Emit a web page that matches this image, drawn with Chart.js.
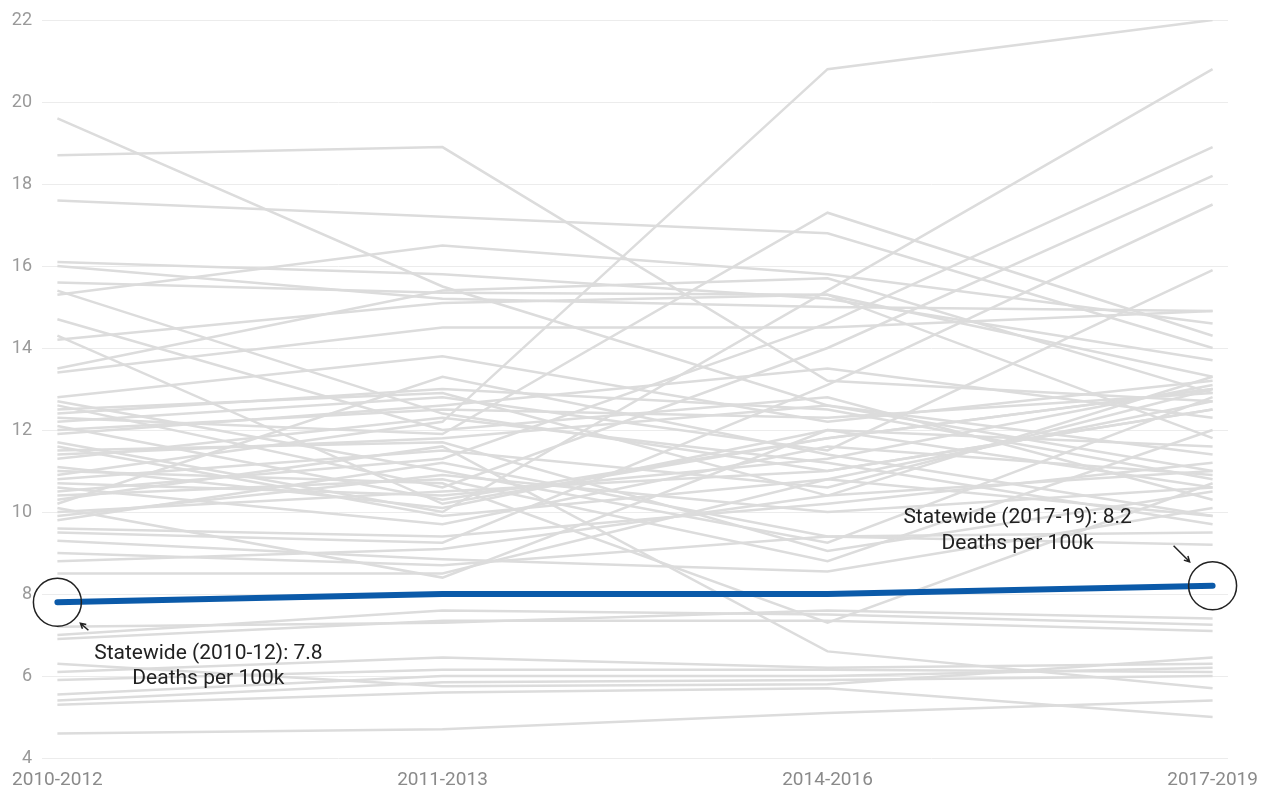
<!DOCTYPE html>
<html>
<head>
<meta charset="utf-8">
<script src="https://cdn.jsdelivr.net/npm/chart.js@4.4.1/dist/chart.umd.min.js"></script>
<style>
  html, body { margin: 0; padding: 0; background: #fff; }
</style>
</head>
<body>
<canvas id="chart" width="1267" height="789"></canvas>
<script>
'use strict';

// periods on the x axis
const periods = ['2010-2012', '2011-2013', '2014-2016', '2017-2019'];
const yTicks = [4, 6, 8, 10, 12, 14, 16, 18, 20, 22];

// statewide rate, deaths per 100k
const statewide = [7.8, 8.0, 8.0, 8.2];

// one row per county, same order as periods
const counties = [
  [4.6, 4.7, 5.1, 5.4],
  [5.3, 5.6, 5.7, 5.0],
  [5.4, 5.85, 5.9, 6.0],
  [5.55, 6.0, 6.0, 6.2],
  [5.9, 6.15, 6.15, 6.1],
  [6.1, 6.45, 6.2, 6.3],
  [6.3, 5.75, 5.8, 6.45],
  [6.9, 7.35, 7.35, 7.1],
  [7.0, 7.6, 7.5, 7.25],
  [7.2, 7.3, 7.6, 7.4],
  [10.3, 11.6, 6.6, 5.7],
  [11.0, 10.7, 7.3, 10.7],
  [10.9, 12.2, 20.8, 22.0],
  [19.6, 15.5, 12.6, 11.4],
  [18.7, 18.9, 13.2, 12.7],
  [17.6, 17.2, 16.8, 14.0],
  [12.3, 11.9, 17.3, 14.3],
  [11.7, 10.0, 15.4, 20.8],
  [10.5, 11.3, 14.6, 18.9],
  [12.6, 10.6, 14.0, 18.2],
  [9.5, 9.25, 13.1, 17.5],
  [12.2, 12.8, 11.5, 15.9],
  [16.1, 15.8, 15.2, 13.7],
  [16.0, 15.2, 15.0, 14.9],
  [15.3, 16.5, 15.8, 14.6],
  [15.6, 15.35, 15.3, 13.3],
  [15.4, 12.4, 11.0, 12.5],
  [14.7, 12.0, 12.8, 10.3],
  [14.3, 10.2, 11.8, 13.0],
  [14.2, 15.1, 15.3, 11.8],
  [13.5, 15.4, 15.7, 12.9],
  [13.4, 14.5, 14.5, 14.9],
  [12.8, 13.8, 12.2, 13.2],
  [12.7, 11.0, 9.25, 12.8],
  [12.5, 12.9, 10.4, 11.0],
  [12.4, 13.0, 12.5, 10.8],
  [12.1, 10.3, 11.8, 13.0],
  [12.0, 12.5, 12.3, 12.9],
  [11.9, 12.6, 13.5, 12.3],
  [11.6, 9.9, 10.8, 12.7],
  [11.5, 11.7, 9.05, 10.5],
  [11.4, 11.8, 12.6, 11.0],
  [11.3, 12.3, 11.2, 9.7],
  [11.1, 10.1, 12.0, 11.6],
  [10.8, 11.5, 10.6, 13.0],
  [10.7, 10.4, 11.3, 13.1],
  [10.6, 9.7, 11.6, 10.9],
  [10.4, 10.8, 8.8, 12.0],
  [10.2, 13.3, 11.4, 9.9],
  [10.1, 8.4, 12.0, 10.6],
  [10.0, 10.5, 11.0, 12.5],
  [9.9, 10.9, 10.0, 10.6],
  [9.8, 11.2, 9.4, 9.2],
  [9.6, 9.4, 10.2, 11.2],
  [9.3, 8.85, 8.55, 10.1],
  [9.0, 8.7, 9.4, 9.5],
  [8.8, 9.1, 10.4, 13.3],
  [8.5, 8.5, 10.8, 9.9]
];

const noteStart = ['Statewide (2010-12): 7.8', 'Deaths per 100k'];
const noteEnd = ['Statewide (2017-19): 8.2', 'Deaths per 100k'];

function toPoints(values) {
  return values.map((v, i) => ({ x: i, y: v }));
}

function arrow(ctx, x1, y1, x2, y2) {
  const a = Math.atan2(y2 - y1, x2 - x1);
  ctx.beginPath();
  ctx.moveTo(x1, y1);
  ctx.lineTo(x2, y2);
  ctx.moveTo(x2 - 6 * Math.cos(a - 0.5), y2 - 6 * Math.sin(a - 0.5));
  ctx.lineTo(x2, y2);
  ctx.lineTo(x2 - 6 * Math.cos(a + 0.5), y2 - 6 * Math.sin(a + 0.5));
  ctx.stroke();
}

// circles, arrows and notes at both ends of the statewide line
const statewideNotes = {
  id: 'statewideNotes',
  afterDatasetsDraw(chart) {
    const { ctx, scales: { x, y } } = chart;
    const first = { x: x.getPixelForValue(0), y: y.getPixelForValue(statewide[0]) };
    const lastIdx = statewide.length - 1;
    const last = { x: x.getPixelForValue(lastIdx), y: y.getPixelForValue(statewide[lastIdx]) };

    ctx.save();
    ctx.strokeStyle = '#222';
    ctx.lineWidth = 1.5;
    [first, last].forEach(p => {
      ctx.beginPath();
      ctx.arc(p.x, p.y, 24, 0, Math.PI * 2);
      ctx.stroke();
    });
    arrow(ctx, first.x + 31, first.y + 28, first.x + 23, first.y + 21);
    arrow(ctx, last.x - 39, last.y - 40, last.x - 23, last.y - 24);

    ctx.fillStyle = '#222';
    ctx.font = '21px Roboto';
    ctx.textAlign = 'center';
    ctx.textBaseline = 'alphabetic';
    ctx.fillText(noteStart[0], first.x + 151, first.y + 57);
    ctx.fillText(noteStart[1], first.x + 151, first.y + 82);
    ctx.fillText(noteEnd[0], last.x - 195, last.y - 63);
    ctx.fillText(noteEnd[1], last.x - 195, last.y - 37);
    ctx.restore();
  }
};

Chart.defaults.font.family = 'Roboto';

const datasets = [{
  data: toPoints(statewide),
  borderColor: '#0b5aa9',
  borderWidth: 6,
  borderCapStyle: 'round',
  order: 0
}].concat(counties.map(row => ({
  data: toPoints(row),
  borderColor: '#dcdcdc',
  borderWidth: 2.5,
  order: 1
})));

new Chart(document.getElementById('chart'), {
  type: 'line',
  data: { datasets: datasets },
  options: {
    responsive: false,
    animation: false,
    events: [],
    layout: { padding: { top: 20, right: 39, left: 0, bottom: 0 } },
    elements: {
      point: { radius: 0 },
      line: { tension: 0 }
    },
    plugins: {
      legend: { display: false },
      tooltip: { enabled: false }
    },
    scales: {
      x: {
        type: 'linear',
        min: -0.04,
        max: periods.length - 1 + 0.04,
        grid: { display: false },
        border: { display: false },
        afterBuildTicks: s => { s.ticks = periods.map((p, i) => ({ value: i })); },
        afterFit: s => { s.height = 31; s.paddingLeft = 0; s.paddingRight = 0; },
        ticks: {
          autoSkip: false,
          maxRotation: 0,
          padding: 3,
          color: '#8a8a8a',
          font: { size: 19 },
          callback: v => periods[v]
        }
      },
      y: {
        min: yTicks[0],
        max: yTicks[yTicks.length - 1],
        afterBuildTicks: s => { s.ticks = yTicks.map(v => ({ value: v })); },
        afterFit: s => { s.width = 42; s.paddingTop = 0; s.paddingBottom = 0; },
        grid: { color: '#ececec', lineWidth: 1, drawTicks: false },
        border: { display: false },
        ticks: {
          padding: 10,
          color: '#9a9a9a',
          font: { size: 18 }
        }
      }
    }
  },
  plugins: [statewideNotes]
});
</script>
</body>
</html>
